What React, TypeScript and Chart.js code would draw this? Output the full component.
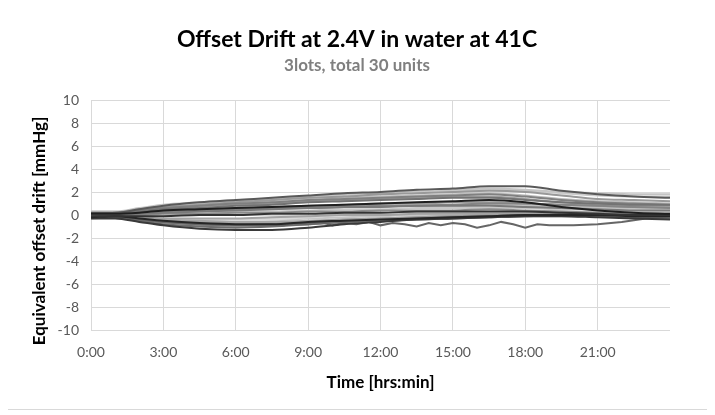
import React, { useEffect, useRef } from "react";
import { Chart, registerables } from "chart.js";

Chart.register(...registerables);

// ---- data ----
const titleText = "Offset Drift at 2.4V in water at 41C";
const subtitleText = "3lots, total 30 units";
const xAxisTitle = "Time [hrs:min]";
const yAxisTitle = "Equivalent offset drift [mmHg]";

const xTickHours = [0, 3, 6, 9, 12, 15, 18, 21];
const xTickLabels = ["0:00", "3:00", "6:00", "9:00", "12:00", "15:00", "18:00", "21:00"];

const hours = [0, 1, 2, 3, 4.5, 6, 7.5, 9, 10.5, 12, 13.5, 15, 16.5, 18, 19.5, 21, 22.5, 24];

const unitU1 = [0.2, 0.2, 0.5, 0.8, 1.1, 1.3, 1.5, 1.7, 1.9, 2.0, 2.2, 2.3, 2.5, 2.5, 2.1, 1.8, 1.6, 1.5];
const unitU2 = [0.3, 0.3, 0.6, 0.9, 1.1, 1.3, 1.4, 1.6, 1.8, 1.9, 2.1, 2.2, 2.3, 2.2, 2.0, 1.9, 1.8, 1.8];
const unitU3 = [0.1, 0.2, 0.5, 0.7, 0.9, 1.1, 1.3, 1.5, 1.6, 1.8, 1.9, 2.0, 2.1, 2.0, 1.7, 1.4, 1.3, 1.2];
const unitU4 = [0.2, 0.2, 0.4, 0.6, 0.8, 1.0, 1.2, 1.3, 1.5, 1.6, 1.7, 1.8, 1.9, 1.7, 1.4, 1.2, 1.1, 1.0];
const unitU5 = [0.1, 0.1, 0.3, 0.5, 0.7, 0.9, 1.0, 1.2, 1.3, 1.4, 1.5, 1.6, 1.6, 1.4, 1.1, 0.9, 0.8, 0.8];
const unitU6 = [0.3, 0.3, 0.5, 0.8, 1.0, 1.2, 1.3, 1.5, 1.7, 1.8, 2.0, 2.1, 2.2, 2.1, 1.9, 1.7, 1.6, 1.6];
const unitU7 = [0.1, 0.2, 0.4, 0.6, 0.8, 1.0, 1.1, 1.3, 1.4, 1.5, 1.6, 1.7, 1.8, 1.6, 1.3, 1.1, 1.0, 0.9];
const unitU8 = [0.0, 0.1, 0.3, 0.5, 0.6, 0.8, 0.9, 1.1, 1.2, 1.3, 1.4, 1.5, 1.5, 1.3, 1.1, 1.0, 0.9, 0.9];

const unitM1 = [0.1, 0.1, 0.2, 0.4, 0.5, 0.6, 0.7, 0.8, 0.9, 1.0, 1.1, 1.2, 1.3, 1.1, 0.7, 0.4, 0.2, 0.1];
const unitM2 = [0.1, 0.1, 0.2, 0.4, 0.5, 0.6, 0.7, 0.8, 0.9, 1.0, 1.0, 1.1, 1.1, 1.0, 0.9, 0.8, 0.7, 0.7];
const unitM3 = [0.2, 0.1, 0.2, 0.3, 0.4, 0.5, 0.6, 0.7, 0.8, 0.8, 0.9, 0.9, 0.9, 0.8, 0.7, 0.6, 0.6, 0.6];
const unitM4 = [0.0, 0.0, 0.1, 0.2, 0.3, 0.4, 0.5, 0.6, 0.7, 0.7, 0.8, 0.8, 0.8, 0.7, 0.6, 0.5, 0.4, 0.4];
const unitM5 = [0.1, 0.0, 0.1, 0.2, 0.2, 0.3, 0.3, 0.4, 0.5, 0.5, 0.6, 0.6, 0.6, 0.6, 0.5, 0.5, 0.5, 0.5];
const unitM6 = [0.2, 0.1, 0.2, 0.3, 0.4, 0.5, 0.5, 0.6, 0.7, 0.7, 0.8, 0.8, 0.9, 0.9, 0.8, 0.8, 0.7, 0.7];
const unitM7 = [0.0, 0.1, 0.2, 0.3, 0.4, 0.5, 0.6, 0.6, 0.7, 0.8, 0.8, 0.9, 1.0, 1.0, 0.9, 0.8, 0.7, 0.6];

const unitZ1 = [-0.1, -0.1, -0.1, -0.1, 0, 0.0, 0.1, 0.1, 0.2, 0.2, 0.3, 0.3, 0.3, 0.3, 0.2, 0.1, 0.0, 0.0];
const unitZ2 = [0.0, -0.1, -0.3, -0.4, -0.5, -0.5, -0.4, -0.2, 0.0, 0.1, 0.2, 0.2, 0.2, 0.2, 0.2, 0.2, 0.2, 0.2];
const unitZ3 = [-0.1, -0.1, -0.2, -0.3, -0.3, -0.3, -0.2, -0.1, 0, 0, 0.1, 0.1, 0.1, 0.1, 0.0, 0.0, 0.0, 0.0];
const unitZ4 = [0.0, -0.1, -0.3, -0.5, -0.6, -0.7, -0.5, -0.3, -0.2, -0.1, 0, 0, 0, 0, 0, 0, 0.1, 0.1];
const unitZ5 = [0.1, 0.0, 0.0, 0.1, 0.1, 0.2, 0.2, 0.3, 0.3, 0.4, 0.4, 0.4, 0.5, 0.4, 0.3, 0.2, 0.1, 0.1];
const unitZ6 = [-0.2, -0.1, -0.3, -0.4, -0.4, -0.4, -0.3, -0.1, 0.1, 0.1, 0.2, 0.2, 0.3, 0.3, 0.3, 0.3, 0.3, 0.3];

const unitL1 = [-0.3, -0.3, -0.6, -0.9, -1.2, -1.3, -1.3, -1.1, -0.8, -0.6, -0.4, -0.3, -0.2, -0.1, -0.1, -0.2, -0.3, -0.4];
const unitL2 = [-0.2, -0.2, -0.5, -0.8, -1.0, -1.1, -1.0, -0.8, -0.6, -0.5, -0.3, -0.2, -0.1, 0, 0, -0.1, -0.2, -0.3];
const unitL3 = [-0.1, -0.2, -0.4, -0.6, -0.8, -0.9, -0.8, -0.6, -0.4, -0.3, -0.2, -0.1, 0, 0.1, 0.1, 0, -0.1, -0.1];
const unitL4 = [-0.2, -0.1, -0.3, -0.5, -0.7, -0.8, -0.8, -0.6, -0.5, -0.4, -0.3, -0.2, -0.1, 0, 0, 0, -0.1, -0.1];
const unitL5 = [-0.3, -0.2, -0.4, -0.7, -0.9, -1.0, -0.9, -0.7, -0.6, -0.5, -0.4, -0.3, -0.2, -0.1, -0.1, -0.1, -0.2, -0.3];
const unitL6 = [0.0, -0.1, -0.2, -0.4, -0.5, -0.6, -0.6, -0.5, -0.4, -0.3, -0.2, -0.1, 0, 0.1, 0.1, 0.1, 0, 0];
const unitL7 = [-0.2, -0.2, -0.4, -0.6, -0.8, -0.9, -0.9, -0.8, -0.6, -0.5, -0.4, -0.3, -0.2, -0.1, 0, 0, -0.1, -0.2];
const unitL8 = [-0.1, -0.1, -0.3, -0.4, -0.6, -0.7, -0.7, -0.6, -0.5, -0.4, -0.3, -0.2, -0.1, 0, 0, 0, 0, -0.1];

const noisyHours = [0, 1, 2, 3, 4.5, 6, 7.5, 8, 8.5, 9, 9.5, 10, 10.5, 11, 11.5, 12, 12.5, 13, 13.5, 14, 14.5, 15, 15.5, 16, 16.5, 17, 17.5, 18, 18.5, 19, 20, 21, 22, 23, 24];
const unitN1 = [-0.1, -0.1, -0.4, -0.6, -0.8, -0.9, -0.8, -0.9, -0.7, -0.8, -0.6, -0.9, -0.7, -0.8, -0.6, -0.9, -0.7, -0.8, -1.0, -0.7, -0.9, -0.7, -0.8, -1.1, -0.9, -0.6, -0.8, -1.1, -0.8, -0.9, -0.9, -0.8, -0.6, -0.3, -0.1];

// ---- styling (drawing order: first = on top) ----
const seriesList: { values: number[]; xs: number[]; color: string; noisy?: boolean }[] = [
  { values: unitM1, xs: hours, color: "#1f1f1f" },
  { values: unitZ1, xs: hours, color: "#333333" },
  { values: unitL4, xs: hours, color: "#262626" },
  { values: unitL1, xs: hours, color: "#3a3a3a" },
  { values: unitU1, xs: hours, color: "#595959" },
  { values: unitN1, xs: noisyHours, color: "#666666", noisy: true },
  { values: unitU8, xs: hours, color: "#737373" },
  { values: unitL2, xs: hours, color: "#6e6e6e" },
  { values: unitM4, xs: hours, color: "#7a7a7a" },
  { values: unitU7, xs: hours, color: "#808080" },
  { values: unitL7, xs: hours, color: "#7f7f7f" },
  { values: unitZ5, xs: hours, color: "#8c8c8c" },
  { values: unitM7, xs: hours, color: "#858585" },
  { values: unitU3, xs: hours, color: "#999999" },
  { values: unitU5, xs: hours, color: "#a0a0a0" },
  { values: unitM2, xs: hours, color: "#9a9a9a" },
  { values: unitZ3, xs: hours, color: "#a3a3a3" },
  { values: unitL3, xs: hours, color: "#999999" },
  { values: unitL6, xs: hours, color: "#a6a6a6" },
  { values: unitL8, xs: hours, color: "#9e9e9e" },
  { values: unitU2, xs: hours, color: "#c4c4c4" },
  { values: unitU4, xs: hours, color: "#bdbdbd" },
  { values: unitU6, xs: hours, color: "#cccccc" },
  { values: unitM3, xs: hours, color: "#c0c0c0" },
  { values: unitM5, xs: hours, color: "#c8c8c8" },
  { values: unitM6, xs: hours, color: "#bfbfbf" },
  { values: unitZ2, xs: hours, color: "#d9d9d9" },
  { values: unitZ4, xs: hours, color: "#c6c6c6" },
  { values: unitZ6, xs: hours, color: "#d4d4d4" },
  { values: unitL5, xs: hours, color: "#bcbcbc" },
];

const FONT = "Lato, 'Open Sans', sans-serif";
const GRID = "#d9d9d9";

// y-axis title drawn slightly below the plot centre, as in the original
const yTitlePlugin = {
  id: "yTitleLabel",
  afterDraw(chart: any) {
    const ctx = chart.ctx;
    ctx.save();
    ctx.translate(34, 225);
    ctx.rotate(-Math.PI / 2);
    ctx.font = `bold 17px ${FONT}`;
    ctx.fillStyle = "#000000";
    ctx.textAlign = "center";
    ctx.textBaseline = "middle";
    ctx.fillText(yAxisTitle, 0, 0);
    ctx.restore();
  },
};

export default function App() {
  const canvasRef = useRef<HTMLCanvasElement | null>(null);

  useEffect(() => {
    const canvas = canvasRef.current;
    if (!canvas) return;
    const datasets = seriesList.map((s, i) => ({
      label: "Unit " + (i + 1),
      data: s.values.map((v, j) => ({ x: s.xs[j], y: v })),
      borderColor: s.color,
      backgroundColor: s.color,
      borderWidth: 2,
      pointRadius: 0,
      tension: s.noisy ? 0 : 0.35,
      cubicInterpolationMode: s.noisy ? "default" : "monotone",
      fill: false,
    }));

    const chart = new Chart(canvas, {
      type: "line",
      data: { datasets: datasets as any },
      plugins: [yTitlePlugin],
      options: {
        responsive: false,
        animation: false,
        layout: { padding: { left: 19, right: 19, top: 0, bottom: 0 } },
        plugins: {
          legend: { display: false },
          tooltip: { enabled: false },
          title: {
            display: true,
            text: titleText,
            color: "#000000",
            font: { family: FONT, size: 23, weight: "bold" },
            padding: { top: 20, bottom: 2 },
          },
          subtitle: {
            display: true,
            text: subtitleText,
            color: "#7f7f7f",
            font: { family: FONT, size: 17, weight: "bold" },
            padding: { top: 0, bottom: 24 },
          },
        },
        scales: {
          x: {
            type: "linear",
            min: 0,
            max: 24,
            afterBuildTicks: (scale: any) => {
              scale.ticks = [...xTickHours, 24].map((v) => ({ value: v }));
            },
            afterFit: (scale: any) => {
              scale.height = 79;
            },
            ticks: {
              padding: 13.6,
              color: "#595959",
              font: { family: FONT, size: 14 },
              maxRotation: 0,
              autoSkip: false,
              callback: (value: any) => {
                const idx = xTickHours.indexOf(Number(value));
                return idx >= 0 ? xTickLabels[idx] : "";
              },
            },
            grid: {
              drawTicks: false,
              color: (ctx: any) => (ctx.tick && ctx.tick.value === 24 ? "rgba(0,0,0,0)" : GRID),
              lineWidth: 1,
            },
            border: { display: false },
            title: {
              display: true,
              text: xAxisTitle,
              color: "#000000",
              font: { family: FONT, size: 17, weight: "bold" },
              padding: { top: 0, bottom: 16 },
            },
          },
          y: {
            type: "linear",
            min: -10,
            max: 10,
            afterFit: (scale: any) => {
              scale.width = 66;
            },
            ticks: {
              stepSize: 2,
              padding: 12,
              color: "#595959",
              font: { family: FONT, size: 14 },
            },
            grid: { drawTicks: false, color: GRID, lineWidth: 1 },
            border: { display: true, color: GRID },
            title: { display: false },
          },
          yRightSpacer: {
            type: "linear",
            position: "right",
            display: true,
            afterFit: (scale: any) => {
              scale.width = 19;
            },
            ticks: { display: false },
            grid: { display: false },
            border: { display: false },
          },
        },
      },
    });
    return () => chart.destroy();
  }, []);

  return (
    <div
      style={{
        position: "relative",
        width: 702,
        height: 403,
        marginLeft: -3,
        marginTop: -3,
        border: "1px solid #d9d9d9",
        background: "#ffffff",
      }}
    >
      <canvas ref={canvasRef} width={702} height={403} style={{ display: "block" }} />
    </div>
  );
}
